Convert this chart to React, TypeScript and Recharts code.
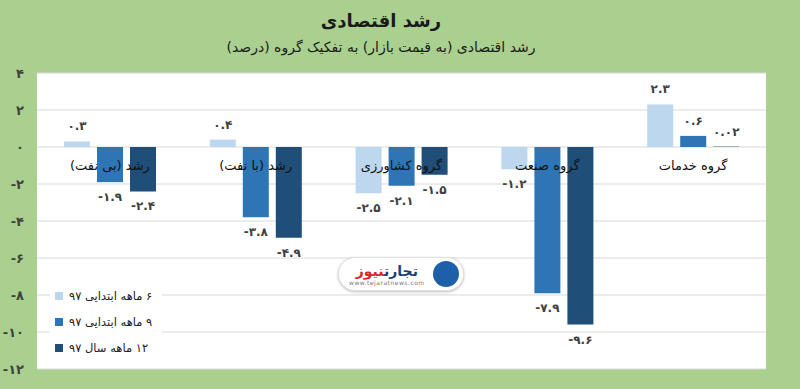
import { BarChart, Bar, XAxis, YAxis, CartesianGrid, Legend, LabelList, ReferenceDot } from 'recharts';

// رشد اقتصادی به تفکیک گروه (درصد)
const categories = ['رشد (بی نفت)', 'رشد (با نفت)', 'گروه کشاورزی', 'گروه صنعت', 'گروه خدمات'];
const sixMonth = [0.3, 0.4, -2.5, -1.2, 2.3];
const nineMonth = [-1.9, -3.8, -2.1, -7.9, 0.6];
const twelveMonth = [-2.4, -4.9, -1.5, -9.6, 0.02];
const seriesNames = ['۶ ماهه ابتدایی ۹۷', '۹ ماهه ابتدایی ۹۷', '۱۲ ماهه سال ۹۷'];
const yTicks = [4, 2, 0, -2, -4, -6, -8, -10, -12];

const COLORS = ['#bdd7ee', '#2e75b6', '#1f4e79'];
const FONT = '"DejaVu Sans", sans-serif';

const faDigits = '۰۱۲۳۴۵۶۷۸۹';
const fa = (s: string) => s.replace(/\d/g, (d) => faDigits[+d]);

const data = categories.map((name, i) => ({
  name,
  s6: sixMonth[i],
  s9: nineMonth[i],
  s12: twelveMonth[i],
}));

const ValueLabel = (props: any) => {
  const vb = props.viewBox ?? props;
  const { x, y, width, height } = vb;
  const v = Number(props.value);
  const top = Math.min(y, y + height);
  const bottom = Math.max(y, y + height);
  const cy = v >= 0 ? top - 15 : bottom + 15;
  return (
    <text
      x={x + width / 2}
      y={cy}
      textAnchor="middle"
      dominantBaseline="central"
      fontFamily={FONT}
      fontSize={12}
      fontWeight="bold"
      fill="#404040"
    >
      {fa(String(v))}
    </text>
  );
};

const catLabel = (text: string) => (props: any) => {
  const vb = props.viewBox ?? props;
  return (
    <text
      x={vb.x + (vb.width || 0) / 2}
      y={vb.y + 18}
      textAnchor="middle"
      dominantBaseline="central"
      direction="rtl"
      fontFamily={FONT}
      fontSize={13}
      fill="#111"
    >
      {text}
    </text>
  );
};

const LegendBox = () => (
  <div style={{ background: '#fff', fontFamily: FONT, fontSize: 11.5, color: '#222' }}>
    {seriesNames.map((n, i) => (
      <div key={n} style={{ display: 'flex', alignItems: 'center', height: 26, paddingLeft: 5, whiteSpace: 'nowrap' }}>
        <span style={{ width: 8, height: 8, background: COLORS[i], marginRight: 6, display: 'inline-block', flex: 'none' }} />
        <span style={{ direction: 'rtl' }}>{n}</span>
      </div>
    ))}
  </div>
);

export default function App() {
  return (
    <div
      style={{
        position: 'absolute',
        left: 0,
        top: 0,
        width: 800,
        height: 389,
        background: '#a9d08e',
        fontFamily: FONT,
      }}
    >
      <div
        dir="rtl"
        style={{ position: 'absolute', left: 181, top: 10, width: 400, textAlign: 'center', fontSize: 18, fontWeight: 'bold', color: '#1a1a1a' }}
      >
        رشد اقتصادی
      </div>
      <div
        dir="rtl"
        style={{ position: 'absolute', left: 131, top: 39, width: 500, textAlign: 'center', fontSize: 14, color: '#1a1a1a' }}
      >
        رشد اقتصادی (به قیمت بازار) به تفکیک گروه (درصد)
      </div>
      <BarChart
        width={800}
        height={389}
        data={data}
        margin={{ top: 73, right: 34, bottom: 20, left: 0 }}
        barSize={26}
        barGap={7}
        style={{ position: 'absolute', left: 0, top: 0 }}
      >
        <CartesianGrid vertical={false} stroke="#d9d9d9" fill="#fff" />
        <XAxis dataKey="name" hide />
        <YAxis
          width={37}
          domain={[-12, 4]}
          ticks={yTicks}
          interval={0}
          axisLine={false}
          tickLine={false}
          tickMargin={7}
          tickFormatter={(v: number) => fa(String(v))}
          tick={{ fill: '#404040', fontSize: 13, fontWeight: 'bold', fontFamily: FONT }}
        />
        <Legend
          layout="vertical"
          align="center"
          verticalAlign="middle"
          wrapperStyle={{ left: 50, top: 283, width: 112 }}
          content={LegendBox}
        />
        <Bar dataKey="s6" name={seriesNames[0]} fill={COLORS[0]} isAnimationActive={false}>
          <LabelList dataKey="s6" content={ValueLabel} />
        </Bar>
        <Bar dataKey="s9" name={seriesNames[1]} fill={COLORS[1]} isAnimationActive={false}>
          <LabelList dataKey="s9" content={ValueLabel} />
        </Bar>
        <Bar dataKey="s12" name={seriesNames[2]} fill={COLORS[2]} isAnimationActive={false}>
          <LabelList dataKey="s12" content={ValueLabel} />
        </Bar>
        {categories.map((c) => (
          <ReferenceDot key={c} x={c} y={0} r={0} fill="none" stroke="none" label={catLabel(c)} />
        ))}
      </BarChart>
      <div
        style={{
          position: 'absolute',
          left: 338,
          top: 257,
          width: 126,
          height: 34,
          borderRadius: 17,
          background: '#fff',
          border: '1px solid #e0e0e0',
          boxShadow: '0 1px 3px rgba(0,0,0,0.25)',
          display: 'flex',
          alignItems: 'center',
          justifyContent: 'space-between',
          padding: '0 4px 0 10px',
          boxSizing: 'border-box',
        }}
      >
        <div style={{ display: 'flex', flexDirection: 'column', alignItems: 'center' }}>
          <div dir="rtl" style={{ fontSize: 14, fontWeight: 'bold', lineHeight: '16px' }}>
            <span style={{ color: '#1d3f7a' }}>تجارت</span>
            <span style={{ color: '#d7262e' }}>نیوز</span>
          </div>
          <div style={{ fontSize: 6, color: '#777', letterSpacing: 0.5 }}>www.tejaratnews.com</div>
        </div>
        <div style={{ width: 26, height: 26, borderRadius: 13, background: '#1d5fa8' }} />
      </div>
    </div>
  );
}
